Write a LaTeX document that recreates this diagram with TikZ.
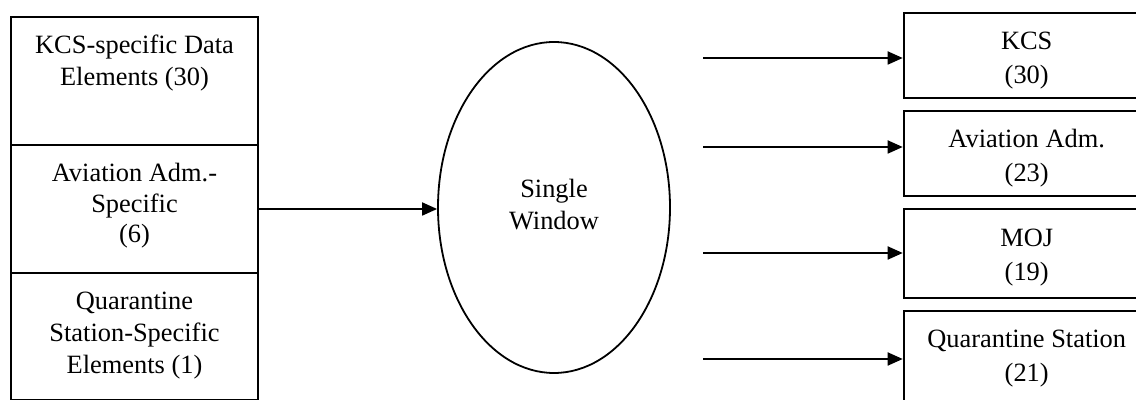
\documentclass[tikz,border=0pt]{standalone}
\usepackage{fontspec}
\setmainfont{Liberation Serif}
\usetikzlibrary{shapes.geometric,arrows.meta}
\newlength\pxu
\setlength\pxu{0.5pt}
\newcommand\bxtext[4]{\parbox[c][#2][t]{#1}{\centering\fontsize{13.2pt}{#3}\selectfont\rule{0pt}{37\pxu}#4}}
\tikzset{
  databox/.style={draw, line width=1pt, inner sep=0pt, anchor=north west},
  arr/.style={line width=0.9pt, -{Triangle[length=7.5pt,width=6.5pt]}},
  swin/.style={ellipse, draw, line width=0.9pt, inner sep=0pt,
    minimum width=232\pxu, minimum height=331\pxu}
}
\begin{document}
\begin{tikzpicture}[x=\pxu, y=-\pxu]
\useasboundingbox (0,0) rectangle (1136,400);
\clip (0,0) rectangle (1136,400);
% left column
\node[databox] (l1) at (10,16) {\bxtext{247\pxu}{128\pxu}{15.8pt}{KCS-specific Data\\Elements (30)}};
\node[databox] (l2) at (10,144) {\bxtext{247\pxu}{128\pxu}{15.2pt}{Aviation Adm.-\\Specific\\(6)}};
\node[databox] (l3) at (10,272) {\bxtext{247\pxu}{127\pxu}{15.8pt}{Quarantine\\Station-Specific\\Elements (1)}};
% single window
\node[swin] (sw) at (554,207.5) {\raisebox{5.5pt}{\fontsize{13.2pt}{16pt}\selectfont\begin{tabular}{@{}c@{}}Single\\Window\end{tabular}}};
% right column
\node[databox] (r1) at (902.7,11.7) {\bxtext{246\pxu}{85\pxu}{17pt}{KCS\\(30)}};
\node[databox] (r2) at (902.7,110) {\bxtext{246\pxu}{85\pxu}{17pt}{Aviation Adm.\\(23)}};
\node[databox] (r3) at (902.7,208.3) {\bxtext{246\pxu}{88.4\pxu}{17pt}{MOJ\\(19)}};
\node[databox] (r4) at (902.7,310) {\bxtext{246\pxu}{98\pxu}{16.7pt}{Quarantine Station\\(21)}};
% connectors
\draw[arr] (l2.east) -- (l2.east -| sw.west);
\coordinate (s1) at (703,58);
\coordinate (s2) at (703,147);
\coordinate (s3) at (703,253);
\coordinate (s4) at (703,359);
\draw[arr] (s1) -- (s1 -| r1.west);
\draw[arr] (s2) -- (s2 -| r2.west);
\draw[arr] (s3) -- (s3 -| r3.west);
\draw[arr] (s4) -- (s4 -| r4.west);
\end{tikzpicture}
\end{document}
